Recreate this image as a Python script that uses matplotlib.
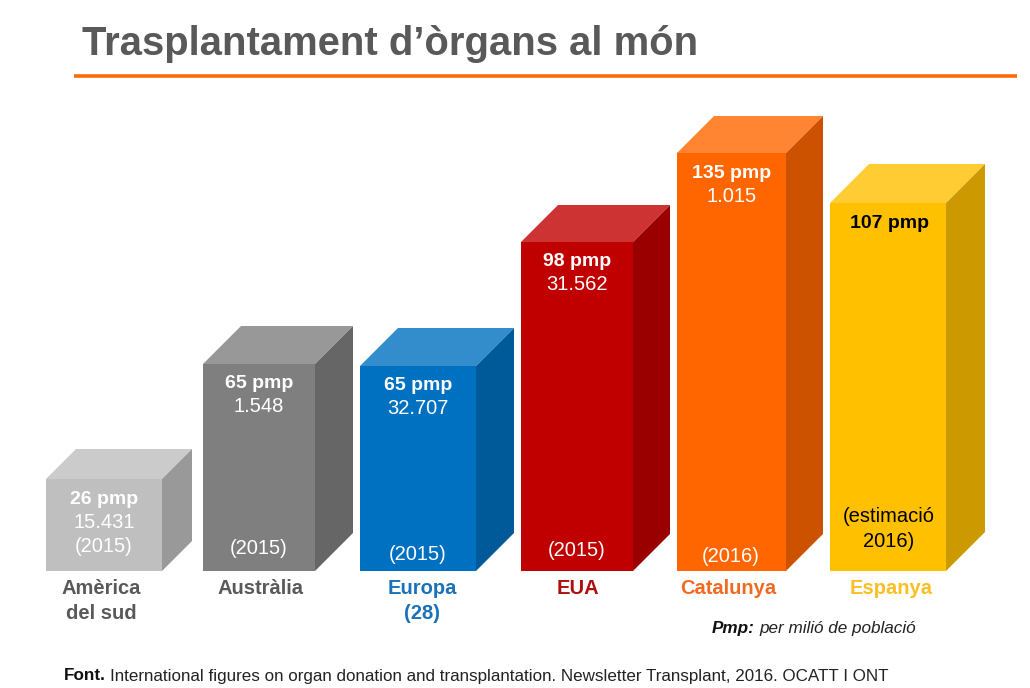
import matplotlib
matplotlib.use("Agg")
import matplotlib.pyplot as plt
from matplotlib.patches import Polygon

plt.rcParams['font.family'] = ['Liberation Sans', 'DejaVu Sans']

# data
categories = ["Amèrica\ndel sud", "Austràlia", "Europa\n(28)", "EUA", "Catalunya", "Espanya"]
pmp_labels = ["26 pmp", "65 pmp", "65 pmp", "98 pmp", "135 pmp", "107 pmp"]
counts = ["15.431", "1.548", "32.707", "31.562", "1.015", ""]
years = ["(2015)", "(2015)", "(2015)", "(2015)", "(2016)", "(estimació\n2016)"]
bar_heights = [92, 207, 205, 329, 418, 368]

# layout, in pixels of the 1030x688 page
BASELINE = 571
lefts = [46, 203, 360, 521, 677, 830]
widths = [116, 112, 116, 112, 109, 116]
depths = [30, 38, 38, 37, 37, 39]
front_colors = ["#bfbfbf", "#7f7f7f", "#0070c0", "#c00000", "#ff6600", "#ffc000"]
top_colors = ["#cbcbcb", "#989898", "#338dcd", "#cd3333", "#ff8533", "#ffcc33"]
side_colors = ["#999999", "#666666", "#005a9a", "#9a0000", "#cc5200", "#cc9a00"]
cat_colors = ["#595959", "#595959", "#1b72b8", "#b00d0d", "#f26a21", "#fbbf24"]
text_colors = ["white", "white", "white", "white", "white", "black"]
cat_x = [101, 260, 422, 578, 728, 891]
text_x = [104, 259, 418, 577, 732, 889]
year_x = [104, 259, 418, 577, 731, 889]
year_y = [547, 549, 554, 551, 557, 529]


def draw_bars(ax):
    ax.bar(lefts, bar_heights, width=widths, align='edge', color=front_colors, linewidth=0)
    for i, h in enumerate(bar_heights):
        x0 = lefts[i]
        x1 = x0 + widths[i]
        d = depths[i]
        # top and side faces of the box
        ax.add_patch(Polygon([(x0, h), (x1, h), (x1 + d, h + d), (x0 + d, h + d)],
                             facecolor=top_colors[i], linewidth=0))
        ax.add_patch(Polygon([(x1, 0), (x1 + d, d), (x1 + d, h + d), (x1, h)],
                             facecolor=side_colors[i], linewidth=0))


def draw_labels(page):
    for i, h in enumerate(bar_heights):
        top = BASELINE - h
        page.text(text_x[i], top + 20, pmp_labels[i], color=text_colors[i], fontsize=14,
                  fontweight='bold', ha='center', va='center')
        if counts[i]:
            page.text(text_x[i], top + 43, counts[i], color=text_colors[i], fontsize=14.5,
                      ha='center', va='center')
        page.text(year_x[i], year_y[i], years[i], color=text_colors[i], fontsize=14.5,
                  ha='center', va='center', linespacing=1.45)
        page.text(cat_x[i], 601 if "\n" in categories[i] else 589, categories[i],
                  color=cat_colors[i], fontsize=14.5, fontweight='bold',
                  ha='center', va='center', linespacing=1.45)


fig = plt.figure(figsize=(10.3, 6.88), dpi=100)

# bars: y counts up from the baseline
ax = fig.add_axes([0, 0, 1, 1])
ax.set_xlim(0, 1030)
ax.set_ylim(BASELINE - 688, BASELINE)
ax.set_axis_off()
draw_bars(ax)

# page furniture: same pixels, y down
page = fig.add_axes([0, 0, 1, 1])
page.set_xlim(0, 1030)
page.set_ylim(688, 0)
page.set_axis_off()
page.patch.set_alpha(0)

page.text(82, 44, "Trasplantament d’òrgans al món", color="#595959", fontsize=28.8,
          fontweight='bold', ha='left', va='center')
page.plot([74, 1017], [76, 76], color="#ff6a0d", linewidth=2.6, solid_capstyle='butt')

draw_labels(page)

page.text(712, 628, "Pmp:", fontsize=12.3, fontweight='bold', fontstyle='italic', color="#111111",
          ha='left', va='center')
page.text(759, 628, "per milió de població", fontsize=12.3, fontstyle='italic', color="#222222",
          ha='left', va='center')
page.text(64, 676, "Font.", fontsize=12.3, fontweight='bold', color="#111111", ha='left', va='center')
page.text(110, 676, "International figures on organ donation and transplantation. "
          "Newsletter Transplant, 2016. OCATT I ONT",
          fontsize=12.27, color="#222222", ha='left', va='center')

fig.savefig("out.png", dpi=100)
